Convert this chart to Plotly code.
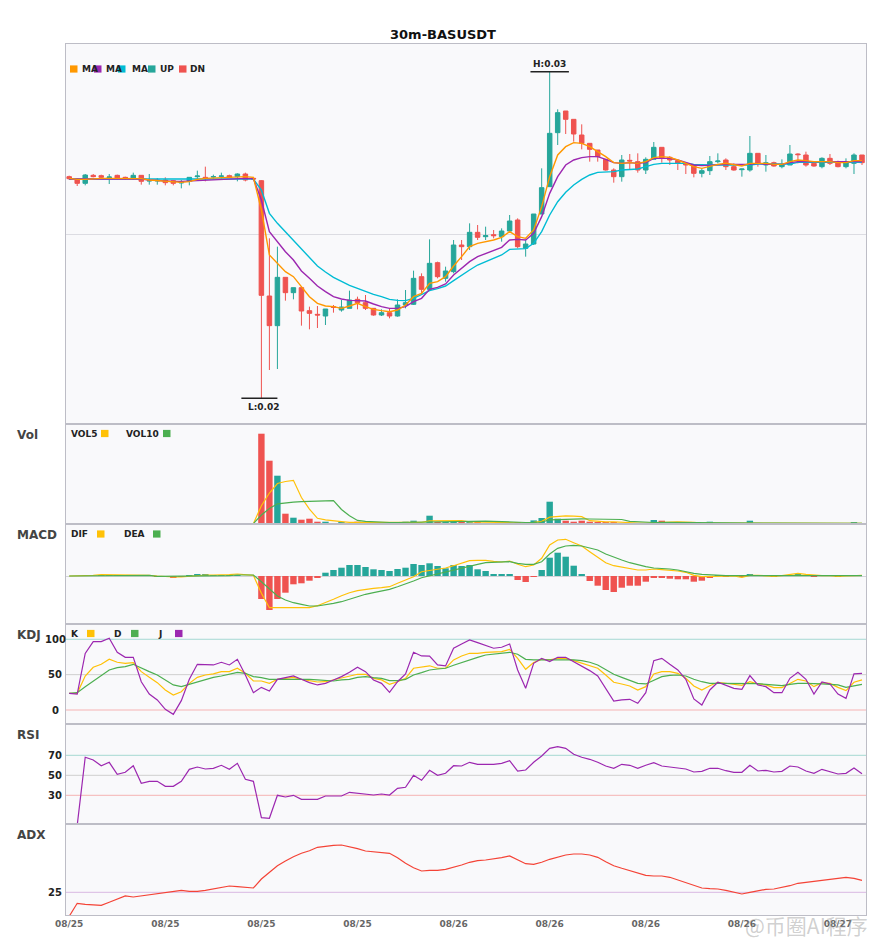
import plotly.graph_objects as go
from plotly.subplots import make_subplots

TITLE = "30m-BASUSDT"
TICK_POS = [0, 12, 24, 36, 48, 60, 72, 84, 96]
TICK_TEXT = ["08/25", "08/25", "08/25", "08/25", "08/26", "08/26", "08/26", "08/26", "08/27"]

OPEN = [0.02672, 0.02664, 0.02652, 0.02676, 0.02675, 0.02669, 0.02676, 0.02670, 0.02668, 0.02676,
        0.02659, 0.02659, 0.02662, 0.02660, 0.02653, 0.02658, 0.02672, 0.02670, 0.02671, 0.02673,
        0.02675, 0.02672, 0.02680, 0.02667, 0.02660, 0.02314, 0.02225, 0.02370, 0.02324, 0.02339,
        0.02270, 0.02259, 0.02254, 0.02282, 0.02272, 0.02277, 0.02304, 0.02294, 0.02277, 0.02257,
        0.02264, 0.02254, 0.02287, 0.02289, 0.02372, 0.02334, 0.02414, 0.02367, 0.02387, 0.02467,
        0.02462, 0.02505, 0.02492, 0.02498, 0.02492, 0.02509, 0.02542, 0.02457, 0.02470, 0.02560,
        0.02642, 0.02804, 0.02869, 0.02844, 0.02797, 0.02772, 0.02752, 0.02724, 0.02692, 0.02672,
        0.02721, 0.02717, 0.02692, 0.02724, 0.02760, 0.02730, 0.02720, 0.02712, 0.02707, 0.02682,
        0.02690, 0.02717, 0.02722, 0.02702, 0.02693, 0.02692, 0.02742, 0.02707, 0.02714, 0.02702,
        0.02707, 0.02740, 0.02737, 0.02712, 0.02702, 0.02727, 0.02714, 0.02702, 0.02712, 0.02737]
HIGH = [0.02675, 0.02666, 0.02680, 0.02680, 0.02678, 0.02680, 0.02678, 0.02672, 0.02684, 0.02677,
        0.02680, 0.02668, 0.02670, 0.02662, 0.02662, 0.02670, 0.02690, 0.02702, 0.02678, 0.02684,
        0.02678, 0.02682, 0.02684, 0.02668, 0.02662, 0.02487, 0.02462, 0.02370, 0.02339, 0.02341,
        0.02282, 0.02284, 0.02275, 0.02287, 0.02302, 0.02330, 0.02312, 0.02317, 0.02278, 0.02274,
        0.02277, 0.02304, 0.02332, 0.02390, 0.02382, 0.02484, 0.02417, 0.02402, 0.02482, 0.02482,
        0.02532, 0.02527, 0.02522, 0.02512, 0.02517, 0.02557, 0.02547, 0.02482, 0.02560, 0.02697,
        0.02987, 0.02874, 0.02869, 0.02844, 0.02829, 0.02772, 0.02752, 0.02724, 0.02697, 0.02737,
        0.02740, 0.02742, 0.02730, 0.02776, 0.02760, 0.02734, 0.02722, 0.02713, 0.02707, 0.02697,
        0.02734, 0.02742, 0.02727, 0.02712, 0.02696, 0.02794, 0.02742, 0.02737, 0.02717, 0.02724,
        0.02767, 0.02742, 0.02747, 0.02714, 0.02730, 0.02740, 0.02720, 0.02727, 0.02742, 0.02737]
LOW = [0.02662, 0.02644, 0.02646, 0.02670, 0.02665, 0.02650, 0.02664, 0.02662, 0.02662, 0.02648,
       0.02648, 0.02648, 0.02646, 0.02646, 0.02637, 0.02646, 0.02662, 0.02658, 0.02664, 0.02666,
       0.02668, 0.02658, 0.02658, 0.02662, 0.02007, 0.02092, 0.02095, 0.02300, 0.02304, 0.02225,
       0.02214, 0.02218, 0.02227, 0.02264, 0.02267, 0.02277, 0.02274, 0.02272, 0.02255, 0.02254,
       0.02247, 0.02252, 0.02277, 0.02287, 0.02322, 0.02332, 0.02367, 0.02357, 0.02382, 0.02422,
       0.02452, 0.02482, 0.02482, 0.02487, 0.02477, 0.02507, 0.02457, 0.02432, 0.02467, 0.02560,
       0.02642, 0.02767, 0.02800, 0.02777, 0.02754, 0.02717, 0.02717, 0.02690, 0.02654, 0.02657,
       0.02692, 0.02684, 0.02680, 0.02724, 0.02714, 0.02707, 0.02692, 0.02680, 0.02670, 0.02670,
       0.02677, 0.02712, 0.02692, 0.02690, 0.02672, 0.02687, 0.02702, 0.02687, 0.02702, 0.02697,
       0.02707, 0.02712, 0.02702, 0.02702, 0.02697, 0.02707, 0.02700, 0.02697, 0.02680, 0.02707]
CLOSE = [0.02666, 0.02652, 0.02677, 0.02672, 0.02670, 0.02671, 0.02668, 0.02668, 0.02676, 0.02658,
         0.02660, 0.02661, 0.02654, 0.02652, 0.02656, 0.02670, 0.02674, 0.02666, 0.02672, 0.02674,
         0.02670, 0.02680, 0.02662, 0.02665, 0.02316, 0.02225, 0.02370, 0.02324, 0.02339, 0.02269,
         0.02262, 0.02257, 0.02275, 0.02280, 0.02281, 0.02302, 0.02294, 0.02277, 0.02257, 0.02264,
         0.02254, 0.02287, 0.02294, 0.02367, 0.02334, 0.02412, 0.02372, 0.02389, 0.02467, 0.02462,
         0.02505, 0.02490, 0.02495, 0.02495, 0.02509, 0.02539, 0.02462, 0.02470, 0.02560, 0.02639,
         0.02802, 0.02864, 0.02844, 0.02800, 0.02772, 0.02754, 0.02732, 0.02692, 0.02672, 0.02722,
         0.02719, 0.02692, 0.02724, 0.02760, 0.02727, 0.02722, 0.02712, 0.02707, 0.02682, 0.02690,
         0.02717, 0.02719, 0.02702, 0.02692, 0.02695, 0.02742, 0.02712, 0.02714, 0.02704, 0.02707,
         0.02740, 0.02738, 0.02707, 0.02704, 0.02727, 0.02712, 0.02702, 0.02714, 0.02737, 0.02714]

MA_FAST = [0.02667, 0.02664, 0.02664, 0.02666, 0.02667, 0.02667, 0.02667, 0.02666, 0.02667, 0.02666,
           0.02662, 0.02660, 0.02658, 0.02655, 0.02655, 0.02657, 0.02664, 0.02667, 0.02668, 0.02668,
           0.02670, 0.02672, 0.02672, 0.02670, 0.02572, 0.02437, 0.02413, 0.02387, 0.02372, 0.02342,
           0.02312, 0.02292, 0.02284, 0.02282, 0.02277, 0.02284, 0.02292, 0.02282, 0.02274, 0.02270,
           0.02267, 0.02272, 0.02287, 0.02312, 0.02322, 0.02352, 0.02357, 0.02372, 0.02404, 0.02432,
           0.02462, 0.02472, 0.02477, 0.02482, 0.02490, 0.02507, 0.02492, 0.02487, 0.02512, 0.02582,
           0.02672, 0.02737, 0.02762, 0.02774, 0.02772, 0.02762, 0.02747, 0.02732, 0.02714, 0.02712,
           0.02714, 0.02712, 0.02717, 0.02729, 0.02732, 0.02730, 0.02722, 0.02712, 0.02702, 0.02697,
           0.02704, 0.02709, 0.02712, 0.02707, 0.02704, 0.02712, 0.02712, 0.02712, 0.02709, 0.02709,
           0.02717, 0.02722, 0.02720, 0.02717, 0.02717, 0.02717, 0.02714, 0.02714, 0.02720, 0.02720]
MA_MID = [0.02665, 0.02665, 0.02665, 0.02665, 0.02665, 0.02665, 0.02665, 0.02665, 0.02665, 0.02665,
          0.02662, 0.02660, 0.02659, 0.02658, 0.02658, 0.02659, 0.02661, 0.02663, 0.02664, 0.02665,
          0.02666, 0.02667, 0.02667, 0.02666, 0.02602, 0.02507, 0.02477, 0.02447, 0.02422, 0.02389,
          0.02367, 0.02344, 0.02327, 0.02312, 0.02305, 0.02301, 0.02300, 0.02299, 0.02290, 0.02282,
          0.02277, 0.02277, 0.02282, 0.02297, 0.02307, 0.02334, 0.02340, 0.02350, 0.02377, 0.02397,
          0.02417, 0.02432, 0.02442, 0.02452, 0.02460, 0.02482, 0.02484, 0.02482, 0.02502, 0.02552,
          0.02622, 0.02672, 0.02707, 0.02722, 0.02729, 0.02732, 0.02732, 0.02724, 0.02714, 0.02712,
          0.02714, 0.02712, 0.02714, 0.02727, 0.02727, 0.02727, 0.02722, 0.02714, 0.02707, 0.02705,
          0.02707, 0.02709, 0.02709, 0.02709, 0.02709, 0.02709, 0.02712, 0.02709, 0.02709, 0.02709,
          0.02714, 0.02717, 0.02717, 0.02717, 0.02717, 0.02717, 0.02717, 0.02717, 0.02717, 0.02717]
MA_SLOW = [0.02665, 0.02665, 0.02665, 0.02665, 0.02665, 0.02665, 0.02665, 0.02665, 0.02665, 0.02665,
           0.02664, 0.02663, 0.02663, 0.02663, 0.02663, 0.02663, 0.02664, 0.02664, 0.02665, 0.02665,
           0.02665, 0.02665, 0.02665, 0.02665, 0.02632, 0.02562, 0.02532, 0.02507, 0.02482, 0.02455,
           0.02432, 0.02404, 0.02386, 0.02370, 0.02358, 0.02346, 0.02337, 0.02327, 0.02319, 0.02312,
           0.02304, 0.02301, 0.02300, 0.02307, 0.02319, 0.02330, 0.02336, 0.02344, 0.02360, 0.02377,
           0.02392, 0.02407, 0.02417, 0.02425, 0.02437, 0.02454, 0.02456, 0.02456, 0.02472, 0.02507,
           0.02557, 0.02597, 0.02625, 0.02647, 0.02664, 0.02677, 0.02685, 0.02686, 0.02687, 0.02692,
           0.02694, 0.02695, 0.02702, 0.02709, 0.02712, 0.02712, 0.02712, 0.02712, 0.02709, 0.02707,
           0.02707, 0.02707, 0.02707, 0.02707, 0.02707, 0.02707, 0.02710, 0.02710, 0.02710, 0.02710,
           0.02710, 0.02715, 0.02715, 0.02715, 0.02715, 0.02715, 0.02715, 0.02715, 0.02715, 0.02715]

VOLUME = [5000, 8000, 9000, 3000, 2000, 4000, 3000, 2000, 5000, 6000,
          4000, 2000, 5000, 4000, 6000, 5000, 4000, 7000, 3000, 3000,
          2000, 4000, 6000, 2000, 903000, 633000, 483000, 103000, 63000, 43000,
          53000, 23000, 23000, 7000, 16000, 10000, 23000, 10000, 10000, 10000,
          10000, 10000, 23000, 33000, 10000, 83000, 20000, 20000, 26000, 16000,
          26000, 16000, 6000, 6000, 13000, 10000, 13000, 10000, 36000, 60000,
          223000, 53000, 33000, 23000, 33000, 23000, 16000, 16000, 16000, 10000,
          6000, 6000, 6000, 40000, 33000, 16000, 10000, 10000, 10000, 6000,
          23000, 6000, 6000, 6000, 6000, 33000, 10000, 6000, 6000, 5000,
          5000, 5000, 5000, 5000, 5000, 5000, 4000, 5000, 13000, 4000]
VOL5 = [5000, 5500, 6500, 6000, 5400, 5200, 4200, 2800, 3200, 4000,
        4000, 3800, 4400, 4200, 4200, 4400, 4800, 5200, 5000, 4400,
        3800, 3800, 4000, 3400, 183000, 310000, 405000, 425000, 437000, 265000,
        149000, 57000, 41000, 30000, 24000, 16000, 16000, 13000, 12000, 13000,
        13000, 10000, 13000, 17000, 17000, 32000, 34000, 33000, 36000, 33000,
        22000, 21000, 18000, 14000, 13000, 10000, 10000, 10000, 16000, 26000,
        68000, 76000, 81000, 78000, 73000, 33000, 26000, 22000, 21000, 16000,
        13000, 10000, 9000, 14000, 18000, 20000, 21000, 22000, 16000, 10000,
        12000, 11000, 10000, 9000, 9000, 11000, 12000, 12000, 12000, 12000,
        6000, 5000, 5000, 5000, 5000, 5000, 5000, 5000, 6000, 6000]
VOL10 = [5000, 5500, 6000, 6000, 5500, 5500, 5000, 4500, 4500, 4500,
         4500, 4300, 4000, 3700, 4000, 4100, 4300, 4600, 4500, 4500,
         4300, 4300, 4600, 4300, 90000, 154000, 202000, 212000, 218000, 223000,
         228000, 230000, 232000, 233000, 145000, 82000, 36000, 27000, 21000, 17000,
         15000, 15000, 16000, 18000, 18000, 25000, 26000, 27000, 29000, 30000,
         31000, 31000, 28000, 26000, 23000, 16000, 16000, 15000, 16000, 20000,
         41000, 45000, 48000, 49000, 51000, 50000, 50000, 49000, 47000, 45000,
         26000, 21000, 14000, 15000, 16000, 16000, 16000, 15000, 15000, 13000,
         14000, 14000, 13000, 11000, 9000, 10000, 10000, 9000, 8000, 8000,
         7000, 7000, 6000, 6000, 5000, 5000, 5000, 5000, 6000, 6000]

# MACD values in units of 1e-5
MACD_HIST = [0, 0, 0, 0, 0.3, 0.3, 0.3, 0.3, 0.3, 0.3,
             0, -0.3, -0.5, -1.3, -0.5, 1, 1.7, 1.7, 0.7, 0.3,
             0.3, 0.7, 0, 0, -23, -34, -23, -16.7, -8.3, -7.3,
             -4.7, -1.7, 3.3, 6, 8.3, 11, 11, 9, 6.7, 6,
             5, 7, 8.3, 12, 11, 12.7, 10, 7.7, 11, 10,
             11, 6.7, 5, 2, 1.3, 2, -4, -6, -0.7, 6,
             18.3, 23.3, 19.3, 10.3, 2, -5, -9.7, -14, -16, -11.7,
             -9.7, -9.7, -5.7, -2, -2, -2.7, -3.3, -3.3, -5.7, -4.7,
             -1.3, 0.3, -0.7, 0, -0.3, 1.7, 0.3, 0, -0.3, 0,
             0.7, 1.3, 0.7, -0.7, 0, 0, -0.3, 0, 0, 0]
DIF = [0, 0, 0.7, 0.7, 1.3, 1.3, 1.3, 1.3, 1.3, 1.3,
       0.7, 0, -0.7, -1, -1, -0.3, 0.7, 1, 1, 1,
       1.3, 2, 1.3, 0.7, -17.3, -31.7, -31.7, -31.7, -32.3, -32.3,
       -31.7, -29.7, -26.7, -23.3, -19.7, -16.7, -14.7, -13.3, -12.3, -11.7,
       -10.7, -7.3, -4, -0.7, 4.3, 5.5, 6.3, 8, 10.3, 12.7,
       15.3, 15.7, 15.7, 14.7, 14, 15, 11.7, 9.3, 11, 17.7,
       31, 36, 36.7, 33.3, 30, 24.3, 18.7, 13.3, 10.3, 9,
       7.3, 6, 6, 7, 6.3, 5.7, 5, 3.7, 0.7, -0.7,
       -0.7, 0, 0, 0, -1.3, 0.7, 0.7, 0.3, -0.3, 0.3,
       1.7, 2.7, 1.7, 0.7, 0.3, 0.3, -0.3, 0, 0.3, 0.7]
DEA = [0, 0, 0, 0, 0.7, 0.7, 0.7, 0.7, 0.7, 0.7,
       0.7, -0.3, -0.3, -0.3, -0.3, -0.3, 0.3, 0.3, 0.3, 0.3,
       0.3, 1, 1, 1, -5.7, -13.3, -20, -24, -26.7, -28.3,
       -30, -30, -29, -27.3, -25.7, -23.3, -20.7, -18.3, -16.7, -15,
       -13.3, -10.7, -8, -5, -1.7, 0.3, 2.3, 4.3, 6, 8,
       10, 11.7, 13.3, 13.7, 13.7, 14.3, 12.7, 11.7, 11.7, 14.3,
       22, 27.7, 30, 30.7, 30, 28.3, 26, 22, 18.7, 16,
       13.3, 11, 9.3, 8, 7.7, 7, 6, 4.3, 2.7, 1.7,
       1, 0.7, 0.3, 0.3, 0, 0.3, 0.3, 0.3, 0.3, 0.3,
       0.7, 1, 1, 0.7, 0.7, 0.3, 0.3, 0.3, 0.3, 0.3]

K = [23.6, 23.6, 48.1, 60.4, 64.6, 71.7, 67.5, 66, 67, 54.2,
     46.2, 38.7, 28.3, 21.2, 25.9, 37.7, 46.2, 49.5, 51, 54.2,
     54.2, 59, 51.9, 41, 41, 37.7, 43.4, 44.8, 46.2, 43.4,
     41, 39.6, 40, 42.5, 44.8, 47.2, 50.5, 50.5, 44.8, 42.5,
     36.3, 40, 44.8, 59, 60.4, 62.5, 59, 59, 70.8, 76.4,
     80.2, 80.2, 81.6, 81.6, 82.5, 85.8, 73.1, 57.5, 67, 71.7,
     70.8, 73.1, 73.1, 69.8, 66, 62.7, 59, 49.5, 39.2, 36.8,
     34, 28.3, 33, 51, 54.2, 54.2, 51.9, 44.8, 34, 28.3,
     34.4, 39.2, 37.7, 35.4, 34.9, 40, 36.8, 35.4, 31.6, 31.6,
     37.7, 43.4, 41, 33, 38.7, 37.7, 32, 27.4, 39.2, 42.5]
D = [23.6, 24.5, 33, 41, 49.5, 56.6, 59.9, 61.3, 64.6, 59,
     54.2, 49.5, 42.5, 35.4, 33, 36.3, 40, 43.4, 46.2, 48.1,
     51, 53.3, 51.9, 47.2, 45.8, 43.4, 43.4, 43.4, 43.9, 43.4,
     43.4, 42.5, 41.5, 41, 42.5, 43.4, 46.2, 47.2, 45.8, 44.8,
     41.5, 41.5, 43.4, 49.5, 52.8, 56.6, 58, 59, 63.2, 67,
     71.7, 74.5, 77.8, 79.2, 80.2, 81.6, 78.8, 71.7, 70.8, 70.8,
     70.8, 70.8, 71.7, 70.8, 69.8, 67.5, 63.7, 57.5, 50.5, 46.2,
     42.5, 37.7, 36.8, 42.5, 47.2, 49, 49.5, 48.1, 43.4, 40,
     37.7, 37.7, 37.7, 36.8, 36.8, 37.7, 37.3, 36.3, 34.9, 34.4,
     36.3, 37.7, 37.7, 36.8, 36.8, 36.3, 35.4, 32, 34.4, 36.3]
J = [23.6, 22.6, 80, 96.7, 96.7, 101.4, 81.6, 74.5, 74.5, 40,
     22.6, 14.2, 1, -6.1, 13.2, 43.4, 64.6, 63.7, 63.7, 67.5,
     63.7, 71.7, 49.5, 24.5, 32, 26.9, 43.4, 45.8, 48.1, 43.4,
     38.7, 35.4, 37.7, 42.5, 47.2, 53.3, 60.4, 54.2, 42.5, 37.7,
     25, 40, 51, 81.6, 76.4, 76.2, 63.7, 62.3, 87.3, 93.4,
     99, 95.3, 91.5, 87.3, 88.7, 93.4, 56.6, 30.7, 66, 73.1,
     68.4, 74.5, 74.5, 68.4, 62.3, 55.7, 48.1, 30.7, 12.7, 14.2,
     15.1, 9.4, 24.5, 69.8, 73.1, 64.6, 56.6, 43.4, 15.6, 7.1,
     28.3, 39.2, 34.9, 30.7, 29.2, 48.6, 35.4, 33, 24.5, 24.5,
     44.8, 53.3, 43.4, 22.6, 39.6, 36.8, 22.6, 16.5, 51, 51.9]

RSI = [0, 0, 68, 65.3, 59.6, 63, 51, 53, 59.6, 42,
       44, 44, 39, 39, 44, 56, 58.3, 56.3, 57, 60,
       56, 62, 46, 44, 7.6, 7, 30, 28.3, 30, 26,
       26, 26, 29.3, 29.3, 29.3, 33, 32.3, 31.3, 30.3, 31.3,
       30.3, 37, 38, 50, 45, 55, 50, 52, 59.6, 59.3,
       63, 61, 61, 61, 62, 64.6, 54.3, 55.3, 63, 69.3,
       77, 78.6, 77, 71, 68, 66, 63, 59.3, 57, 61,
       60, 57, 60, 62.6, 59.3, 58.3, 57.3, 56.3, 53.3, 54,
       57, 57, 54.6, 53, 53, 60, 54.3, 55, 53.3, 54,
       59.3, 58.3, 54.3, 52, 56, 53.3, 51.3, 52, 57.3, 51.6]

ADX = [13, 19.5, 19, 18.65, 18.5, 20, 21.5, 23.2, 22.65, 23.15,
       23.65, 24.15, 24.65, 25.15, 26, 25.5, 25.5, 26, 26.65, 27.65,
       28.15, 27.8, 27.65, 27.15, 31.65, 35, 38.3, 40.65, 42.8, 44.5,
       45.8, 47.5, 48.15, 48.5, 48.65, 47.8, 46.8, 45.65, 45.15, 44.65,
       44.5, 42.3, 39.5, 37.3, 35.65, 36, 36, 36.5, 37.5, 38.65,
       40, 40.8, 41.15, 41.65, 42.3, 43.15, 41.15, 39.3, 39, 40,
       41.5, 42.65, 43.65, 44.15, 44.15, 43.65, 42.5, 40.3, 38.3, 37,
       35.8, 34.5, 33.5, 33.15, 33.15, 32.5, 31.15, 29.8, 28.5, 27.15,
       26.8, 26.65, 26, 25, 24.15, 25, 25.8, 26.5, 26.65, 27.3,
       28.3, 29.5, 30, 30.3, 31, 31.5, 32, 32.5, 32, 31]

KDJ_LEVELS = [100, 50, 0]
RSI_LEVELS = [70, 50, 30]
ADX_LEVELS = [25]

series = dict(OPEN=OPEN, HIGH=HIGH, LOW=LOW, CLOSE=CLOSE, MA_FAST=MA_FAST, MA_MID=MA_MID,
              MA_SLOW=MA_SLOW, VOLUME=VOLUME, VOL5=VOL5, VOL10=VOL10, MACD_HIST=MACD_HIST,
              DIF=DIF, DEA=DEA, K=K, D=D, J=J, RSI=RSI, ADX=ADX)
bad = {k: len(v) for k, v in series.items() if len(v) != 100}
if bad:
    raise ValueError(f"bad lengths {bad}")

N = len(CLOSE)
X = list(range(N))

UP_C = "#26A69A"
DN_C = "#EF5350"
C_ORANGE = "#FF9800"
C_PURPLE = "#9C27B0"
C_CYAN = "#00BCD4"
C_AMBER = "#FFC107"
C_GREEN = "#4CAF50"
C_RED = "#F44336"
BORDER = "#BDBDC6"
FONT = "DejaVu Sans"

# the page body adds an 8px offset; figure is sized so plot region lands where the reference has it
FIG_W, FIG_H = 877, 942
OFF = 8
PL, PR, PT, PB = 66, 866, 44, 915   # plot region in screenshot pixels

fig = make_subplots(rows=6, cols=1, shared_xaxes=True, vertical_spacing=0,
                    row_heights=[380, 100, 100, 100, 100, 91])

fig.add_trace(go.Candlestick(
    x=X, open=OPEN, high=HIGH, low=LOW, close=CLOSE,
    increasing=dict(line=dict(color=UP_C, width=1), fillcolor=UP_C),
    decreasing=dict(line=dict(color=DN_C, width=1), fillcolor=DN_C),
    whiskerwidth=0, hoverinfo="skip"), row=1, col=1)
for ys, col in ((MA_SLOW, C_CYAN), (MA_MID, C_PURPLE), (MA_FAST, C_ORANGE)):
    fig.add_trace(go.Scatter(x=X, y=ys, mode="lines", line=dict(color=col, width=1.4),
                             hoverinfo="skip"), row=1, col=1)

vol_colors = [UP_C if c >= o else DN_C for o, c in zip(OPEN, CLOSE)]
fig.add_trace(go.Bar(x=X, y=VOLUME, marker=dict(color=vol_colors, line=dict(width=0)),
                     hoverinfo="skip"), row=2, col=1)
fig.add_trace(go.Scatter(x=X, y=VOL5, mode="lines", line=dict(color=C_AMBER, width=1.2)), row=2, col=1)
fig.add_trace(go.Scatter(x=X, y=VOL10, mode="lines", line=dict(color=C_GREEN, width=1.2)), row=2, col=1)

macd_colors = [UP_C if v >= 0 else DN_C for v in MACD_HIST]
fig.add_trace(go.Bar(x=X, y=MACD_HIST, marker=dict(color=macd_colors, line=dict(width=0)),
                     hoverinfo="skip"), row=3, col=1)
fig.add_trace(go.Scatter(x=X, y=DIF, mode="lines", line=dict(color=C_AMBER, width=1.2)), row=3, col=1)
fig.add_trace(go.Scatter(x=X, y=DEA, mode="lines", line=dict(color=C_GREEN, width=1.2)), row=3, col=1)

fig.add_trace(go.Scatter(x=X, y=K, mode="lines", line=dict(color=C_AMBER, width=1.2)), row=4, col=1)
fig.add_trace(go.Scatter(x=X, y=D, mode="lines", line=dict(color=C_GREEN, width=1.2)), row=4, col=1)
fig.add_trace(go.Scatter(x=X, y=J, mode="lines", line=dict(color=C_PURPLE, width=1.2)), row=4, col=1)

fig.add_trace(go.Scatter(x=X, y=RSI, mode="lines", line=dict(color=C_PURPLE, width=1.2)), row=5, col=1)
fig.add_trace(go.Scatter(x=X, y=ADX, mode="lines", line=dict(color=C_RED, width=1.2)), row=6, col=1)

# level lines
for v, col in zip(KDJ_LEVELS, ["#A6D9D3", "#CFCFCF", "#F6B3B3"]):
    fig.add_hline(y=v, row=4, col=1, line=dict(color=col, width=1), layer="below")
for v, col in zip(RSI_LEVELS, ["#A6D9D3", "#CFCFCF", "#F6B3B3"]):
    fig.add_hline(y=v, row=5, col=1, line=dict(color=col, width=1), layer="below")
for v in ADX_LEVELS:
    fig.add_hline(y=v, row=6, col=1, line=dict(color="#D9B8E3", width=1), layer="below")

fig.update_layout(
    width=FIG_W, height=FIG_H,
    margin=dict(l=PL - OFF, r=FIG_W - (PR - OFF), t=PT - OFF, b=FIG_H - (PB - OFF)),
    paper_bgcolor="white", plot_bgcolor="#F9F9FB",
    showlegend=False, boxgap=0.2, bargap=0.2,
    font=dict(family=FONT, color="#222"),
    title=dict(text=f"<b>{TITLE}</b>", x=(443 - OFF) / FIG_W, xanchor="center",
               y=1 - (34 - OFF) / FIG_H, yanchor="middle",
               font=dict(size=13, color="#111", family=FONT)),
)

for r in range(1, 7):
    fig.update_xaxes(row=r, col=1, range=[-0.4, 99.5], showgrid=False, zeroline=False,
                     showline=True, mirror=True, linecolor=BORDER, linewidth=1, ticks="",
                     rangeslider_visible=False)
fig.update_xaxes(row=6, col=1, tickmode="array", tickvals=TICK_POS,
                 ticktext=[f"<b>{t}</b>" for t in TICK_TEXT], showticklabels=True,
                 tickfont=dict(size=9, color="#666", family=FONT))

y_ranges = {1: [0.0193, 0.0307], 2: [0, 1000000], 3: [-48, 52],
            4: [-19.8, 121.6], 5: [1.3, 101.3], 6: [13.65, 59.15]}
for r, rg in y_ranges.items():
    fig.update_yaxes(row=r, col=1, range=rg, showgrid=False, zeroline=False,
                     showticklabels=False, showline=True, mirror=True,
                     linecolor=BORDER, linewidth=1, ticks="")
fig.update_yaxes(row=1, col=1, tickmode="array", tickvals=[0.025], showgrid=True,
                 gridcolor="#DCDCE2", gridwidth=1)
fig.update_yaxes(row=3, col=1, zeroline=True, zerolinecolor="#D2D2D8", zerolinewidth=1)


def xp(px):
    return (px - PL) / (PR - PL)


def yp(py):
    return (PB - py) / (PB - PT)


ann = []
shapes = []

# panel labels
for txt, py in (("Vol", 435), ("MACD", 535), ("KDJ", 635), ("RSI", 735), ("ADX", 835)):
    ann.append(dict(xref="paper", yref="paper", x=xp(15), y=yp(py), xanchor="left",
                    yanchor="middle", text=f"<b>{txt}</b>", showarrow=False,
                    font=dict(size=12, color="#444", family=FONT)))

# y tick labels, centred left of the axis
for yref, levels in (("y4", KDJ_LEVELS), ("y5", RSI_LEVELS), ("y6", ADX_LEVELS)):
    for v in levels:
        ann.append(dict(xref="paper", yref=yref, x=xp(55), y=v, xanchor="center",
                        yanchor="middle", text=f"<b>{v}</b>", showarrow=False,
                        font=dict(size=10, color="#222", family=FONT)))


def legend_square(x0, cy, color):
    shapes.append(dict(type="rect", xref="paper", yref="paper", x0=xp(x0), x1=xp(x0 + 7.5),
                       y0=yp(cy + 3.6), y1=yp(cy - 3.6), fillcolor=color,
                       line=dict(width=0), layer="above"))


def legend_text(x0, cy, txt):
    ann.append(dict(xref="paper", yref="paper", x=xp(x0), y=yp(cy), xanchor="left",
                    yanchor="middle", text=f"<b>{txt}</b>", showarrow=False,
                    font=dict(size=9, color="#222", family=FONT)))


MAIN_LEGEND = [("MA", C_ORANGE), ("MA", C_PURPLE), ("MA", C_CYAN), ("UP", UP_C), ("DN", DN_C)]
for (txt, col), sx, tx in zip(MAIN_LEGEND, [70, 94, 118, 148, 179], [80, 104, 130, 158, 188]):
    legend_text(tx, 69, txt)
    legend_square(sx, 69, col)

for items, cy, txs, sxs in (
        ([("VOL5", C_AMBER), ("VOL10", C_GREEN)], 433.5, [69, 124], [101, 163]),
        ([("DIF", C_AMBER), ("DEA", C_GREEN)], 534, [69, 122], [97, 153]),
        ([("K", C_AMBER), ("D", C_GREEN), ("J", C_PURPLE)], 633.5, [69, 112, 156], [87, 131, 175])):
    for (txt, col), tx, sx in zip(items, txs, sxs):
        legend_text(tx, cy, txt)
        legend_square(sx, cy, col)

# high / low markers
hi_i = max(range(N), key=lambda i: HIGH[i])
lo_i = min(range(N), key=lambda i: LOW[i])
shapes.append(dict(type="line", xref="x", yref="y", x0=hi_i - 2.4, x1=hi_i + 2.4,
                   y0=HIGH[hi_i], y1=HIGH[hi_i], line=dict(color="#222", width=1.5)))
shapes.append(dict(type="line", xref="x", yref="y", x0=lo_i - 2.5, x1=lo_i + 2.0,
                   y0=LOW[lo_i], y1=LOW[lo_i], line=dict(color="#222", width=1.5)))
ann.append(dict(xref="x", yref="y", x=hi_i, y=HIGH[hi_i], yanchor="bottom", yshift=1,
                text=f"<b>H:{HIGH[hi_i]:.2f}</b>", showarrow=False,
                font=dict(size=9, color="#222", family=FONT)))
ann.append(dict(xref="x", yref="y", x=lo_i + 0.3, y=LOW[lo_i], yanchor="top", yshift=-2,
                text=f"<b>L:{LOW[lo_i]:.2f}</b>", showarrow=False,
                font=dict(size=9, color="#222", family=FONT)))

# watermark
ann.append(dict(xref="paper", yref="paper", x=xp(806), y=yp(925), xanchor="center",
                yanchor="middle", text="@币圈AI程序", showarrow=False,
                font=dict(size=21, color="rgba(150,150,150,0.45)", family="Noto Sans CJK SC")))

fig.update_layout(annotations=list(fig.layout.annotations) + ann,
                  shapes=list(fig.layout.shapes) + shapes)

fig.write_html("out.html")
